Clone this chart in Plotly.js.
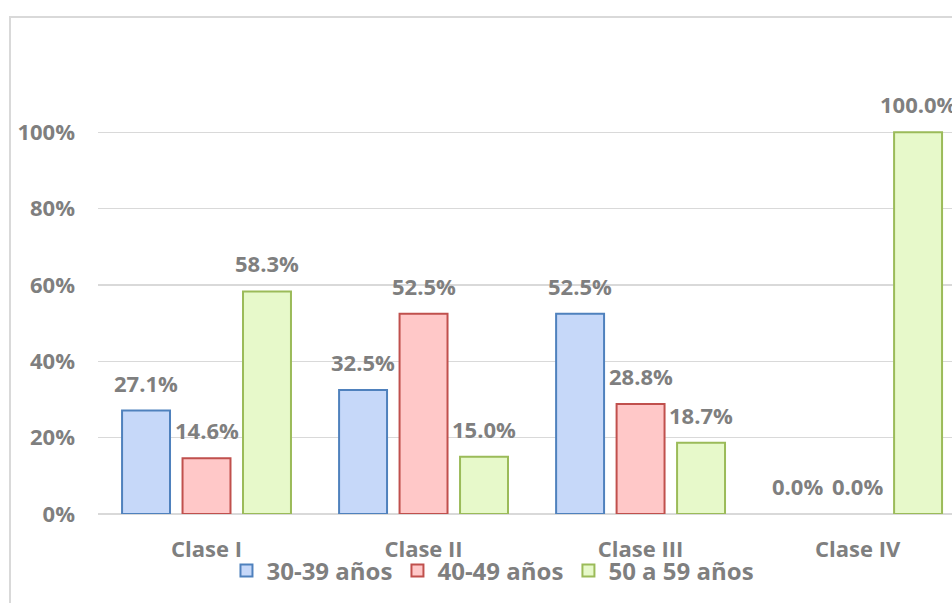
<!DOCTYPE html>
<html>
<head>
<meta charset="utf-8">
<script src="https://cdn.plot.ly/plotly-3.0.1.min.js"></script>
<style>
  html, body { margin: 0; padding: 0; width: 952px; height: 603px; overflow: hidden; background: #fff; }
  #frame { position: absolute; left: 9px; top: 16px; width: 1000px; height: 700px; border: 2px solid #d9d9d9; box-sizing: border-box; }
  #chart { position: absolute; left: 0; top: 0; width: 952px; height: 603px; }
</style>
</head>
<body>
<div id="frame"></div>
<div id="chart"></div>
<script>
const categories = ["Clase I", "Clase II", "Clase III", "Clase IV"];
const seriesNames = ["30-39 años", "40-49 años", "50 a 59 años"];
const values3039 = [27.1, 32.5, 52.5, 0.0];
const values4049 = [14.6, 52.5, 28.8, 0.0];
const values5059 = [58.3, 15.0, 18.7, 100.0];
const yTickVals = [0, 20, 40, 60, 80, 100];
const yTickText = yTickVals.map(v => v + "%");

const fills = ["#c6d8f9", "#ffc8c8", "#e7f9ca"];
const borders = ["#4f81bd", "#c0504d", "#9bbb59"];
const allValues = [values3039, values4049, values5059];
const seriesShift = [-60.5, 0, 60.5];
const textFont = { family: "Open Sans, sans-serif", size: 22, color: "#7f7f7f", weight: 700 };
const legendFont = { family: "Open Sans, sans-serif", size: 24, color: "#7f7f7f", weight: 700 };

const traces = allValues.map((vals, i) => ({
  type: "bar",
  name: seriesNames[i],
  x: categories,
  y: vals,
  marker: {
    color: fills[i],
    line: { color: borders[i], width: vals.map(v => v > 0 ? 2 : 0) }
  },
  hoverinfo: "skip"
}));

const annotations = [];
allValues.forEach((vals, i) => {
  vals.forEach((v, j) => {
    annotations.push({
      x: categories[j], y: v, xref: "x", yref: "y",
      text: v.toFixed(1) + "%",
      showarrow: false,
      xanchor: "center", yanchor: "bottom",
      xshift: seriesShift[i], yshift: 11,
      font: textFont
    });
  });
});

const layout = {
  width: 952,
  height: 603,
  margin: { l: 98, r: 0, t: 56, b: 89 },
  paper_bgcolor: "rgba(0,0,0,0)",
  plot_bgcolor: "rgba(0,0,0,0)",
  barmode: "group",
  bargap: 0.164,
  bargroupgap: 0.207,
  showlegend: true,
  legend: {
    orientation: "h",
    x: 0.4625, xanchor: "center",
    y: -0.124, yanchor: "middle",
    font: legendFont,
    itemwidth: 30,
    bgcolor: "rgba(0,0,0,0)"
  },
  annotations: annotations,
  xaxis: {
    type: "category",
    range: [-0.5, 3.435],
    showgrid: false,
    zeroline: false,
    showline: false,
    ticks: "",
    tickfont: textFont,
    ticklabelstandoff: 20
  },
  yaxis: {
    range: [0, 120],
    tickmode: "array",
    tickvals: yTickVals,
    ticktext: yTickText,
    showgrid: true,
    gridcolor: "#d9d9d9",
    gridwidth: 1.5,
    zeroline: true,
    zerolinecolor: "#d9d9d9",
    zerolinewidth: 2,
    showline: false,
    ticks: "",
    tickfont: textFont,
    ticklabelstandoff: 22
  }
};

Plotly.newPlot("chart", traces, layout, { displayModeBar: false, staticPlot: true });
</script>
</body>
</html>
